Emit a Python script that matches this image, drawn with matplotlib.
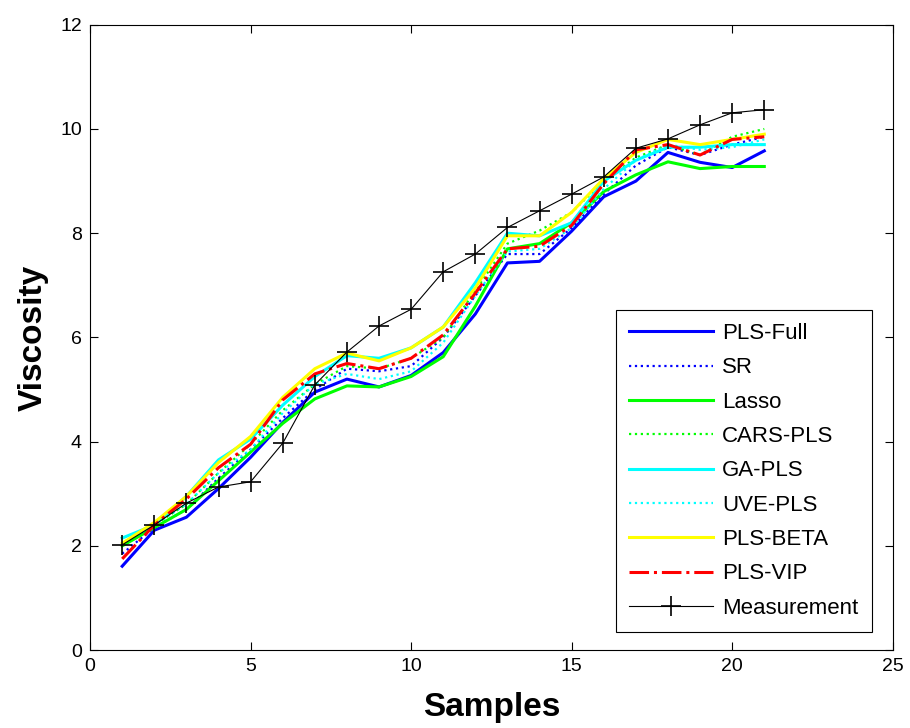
import numpy as np
import matplotlib
matplotlib.use('Agg')
from matplotlib import pyplot as plt

plt.rcParams['font.family'] = ['Liberation Sans', 'DejaVu Sans']

samples = list(range(1, 22))

# predictions
pls_full = [1.61, 2.30, 2.55, 3.10, 3.70, 4.37, 4.95, 5.20, 5.05, 5.27, 5.71, 6.45, 7.43, 7.46, 8.04, 8.70, 9.00, 9.55, 9.36, 9.26, 9.58]
sr = [1.85, 2.35, 2.70, 3.30, 3.85, 4.45, 5.00, 5.40, 5.35, 5.45, 6.00, 6.80, 7.60, 7.60, 8.10, 8.75, 9.30, 9.65, 9.50, 9.70, 9.85]
lasso = [2.00, 2.35, 2.70, 3.25, 3.80, 4.35, 4.82, 5.07, 5.05, 5.25, 5.63, 6.60, 7.70, 7.80, 8.20, 8.80, 9.12, 9.37, 9.24, 9.28, 9.28]
cars_pls = [2.00, 2.40, 2.80, 3.40, 3.95, 4.60, 5.10, 5.45, 5.40, 5.60, 6.00, 6.90, 7.80, 8.05, 8.40, 9.00, 9.45, 9.70, 9.50, 9.85, 10.00]
ga_pls = [2.15, 2.40, 2.95, 3.65, 4.05, 4.70, 5.25, 5.65, 5.60, 5.80, 6.20, 7.05, 8.00, 7.95, 8.20, 9.00, 9.40, 9.65, 9.65, 9.70, 9.70]
uve_pls = [2.05, 2.40, 2.80, 3.40, 3.85, 4.55, 5.10, 5.30, 5.20, 5.35, 5.90, 6.80, 7.65, 7.70, 8.10, 8.85, 9.40, 9.70, 9.60, 9.65, 9.80]
pls_beta = [2.05, 2.45, 2.95, 3.60, 4.10, 4.85, 5.40, 5.70, 5.55, 5.80, 6.20, 6.95, 7.95, 7.95, 8.40, 9.05, 9.55, 9.80, 9.70, 9.80, 9.90]
pls_vip = [1.75, 2.40, 2.90, 3.50, 3.95, 4.80, 5.30, 5.50, 5.40, 5.60, 6.05, 6.85, 7.70, 7.75, 8.15, 8.95, 9.60, 9.70, 9.50, 9.80, 9.85]
measurement = [2.02, 2.40, 2.82, 3.13, 3.23, 3.97, 5.09, 5.72, 6.22, 6.54, 7.26, 7.60, 8.11, 8.43, 8.75, 9.08, 9.63, 9.81, 10.08, 10.31, 10.37]

fig = plt.figure(figsize=(9.1, 7.28), dpi=100)
ax = fig.add_axes([0.099, 0.107, 0.882, 0.859])

ax.plot(samples, pls_full, '-', color='#0000ff', lw=2.2, label='PLS-Full')
ax.plot(samples, sr, ':', color='#0000ff', lw=1.6, label='SR')
ax.plot(samples, lasso, '-', color='#00ff00', lw=2.2, label='Lasso')
ax.plot(samples, cars_pls, ':', color='#00ff00', lw=1.6, label='CARS-PLS')
ax.plot(samples, ga_pls, '-', color='#00ffff', lw=2.2, label='GA-PLS')
ax.plot(samples, uve_pls, ':', color='#00ffff', lw=1.6, label='UVE-PLS')
ax.plot(samples, pls_beta, '-', color='#ffff00', lw=2.2, label='PLS-BETA')
ax.plot(samples, pls_vip, '-.', color='#ff0000', lw=2.2, label='PLS-VIP')
ax.plot(samples, measurement, '-', color='black', lw=0.8, marker='+',
        markersize=14, markeredgewidth=1.2, label='Measurement')

ax.set_xlim(0, 25)
ax.set_ylim(0, 12)
ax.set_xticks([0, 5, 10, 15, 20, 25])
ax.set_yticks([0, 2, 4, 6, 8, 10, 12])
ax.tick_params(direction='in', top=True, right=True, labelsize=14, length=6, pad=6)
for s in ax.spines.values():
    s.set_linewidth(0.8)

ax.set_xlabel('Samples', fontsize=24, fontweight='bold', labelpad=12)
ax.set_ylabel('Viscosity', fontsize=24, fontweight='bold', labelpad=8)

leg = ax.legend(loc='lower right', bbox_to_anchor=(0.974, 0.029), fontsize=16,
                handlelength=3.8, labelspacing=0.6, borderpad=0.6,
                handletextpad=0.4, fancybox=False, framealpha=1, borderaxespad=0)
leg.get_frame().set_edgecolor('black')
leg.get_frame().set_linewidth(0.8)

fig.savefig('out.png', dpi=100)
